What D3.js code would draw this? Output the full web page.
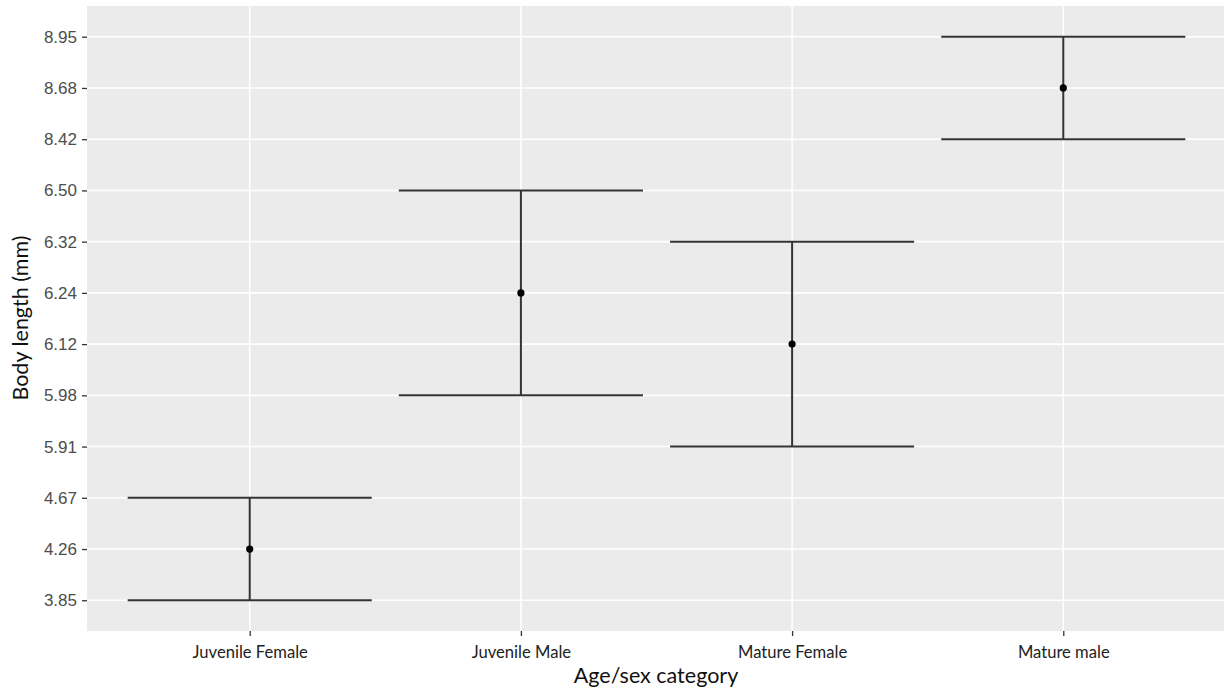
<!DOCTYPE html>
<html>
<head>
<meta charset="utf-8">
<script src="https://cdn.jsdelivr.net/npm/d3@7"></script>
<style>
  body { margin: 0; background: #fff; }
</style>
</head>
<body>
<div id="container"></div>
<script>
// categories and summary values (mean with lower / upper bound)
const categories = ["Juvenile Female", "Juvenile Male", "Mature Female", "Mature male"]
const means = ["4.26", "6.24", "6.12", "8.68"]
const lowers = ["3.85", "5.98", "5.91", "8.42"]
const uppers = ["4.67", "6.50", "6.32", "8.95"]

// y is a discrete axis, levels sorted as in the original factor
const yLevels = ["3.85", "4.26", "4.67", "5.91", "5.98", "6.12", "6.24", "6.32", "6.50", "8.42", "8.68", "8.95"]

const width = 1224
const height = 694

const panel = { left: 87, right: 1226, top: 6, bottom: 631 }

const svg = d3.select('#container')
    .append('svg').attr('width', width).attr('height', height)

const x = d3.scalePoint().domain(categories).range([panel.left, panel.right]).padding(0.6)
const y = d3.scalePoint().domain(yLevels).range([panel.bottom, panel.top]).padding(0.6)

svg.append("rect")
    .attr("x", panel.left).attr("y", panel.top)
    .attr("width", panel.right - panel.left).attr("height", panel.bottom - panel.top)
    .attr("fill", "#ebebeb")

// grid
svg.append("g").selectAll("line").data(yLevels).join("line")
    .attr("x1", panel.left).attr("x2", panel.right)
    .attr("y1", d => y(d)).attr("y2", d => y(d))
    .attr("stroke", "#fff").attr("stroke-width", 1.6)
svg.append("g").selectAll("line").data(categories).join("line")
    .attr("y1", panel.top).attr("y2", panel.bottom)
    .attr("x1", d => x(d)).attr("x2", d => x(d))
    .attr("stroke", "#fff").attr("stroke-width", 1.6)

// axes
const yAxis = d3.axisLeft(y).tickSize(5).tickPadding(5)
const gy = svg.append("g").attr("transform", `translate(${panel.left},0)`).call(yAxis)
gy.select(".domain").remove()
gy.selectAll(".tick line").attr("stroke", "#333").attr("stroke-width", 1.3)
gy.selectAll(".tick text")
    .attr("fill", "#4d4d4d")
    .style("font-family", "'Liberation Sans', Arial, sans-serif")
    .style("font-size", "17px")

const xAxis = d3.axisBottom(x).tickSize(5).tickPadding(10)
const gx = svg.append("g").attr("transform", `translate(0,${panel.bottom})`).call(xAxis)
gx.select(".domain").remove()
gx.selectAll(".tick line").attr("stroke", "#333").attr("stroke-width", 1.3)
gx.selectAll(".tick text")
    .attr("fill", "#222")
    .style("font-family", "Lato, 'Open Sans', sans-serif")
    .style("font-size", "16.6px")

// error bars
const halfW = x.step() * 0.45
const bars = svg.append("g")
categories.forEach((c, i) => {
    const cx = x(c)
    bars.append("line")
        .attr("x1", cx).attr("x2", cx)
        .attr("y1", y(uppers[i])).attr("y2", y(lowers[i]))
        .attr("stroke", "#333").attr("stroke-width", 2)
    bars.append("line")
        .attr("x1", cx - halfW).attr("x2", cx + halfW)
        .attr("y1", y(uppers[i])).attr("y2", y(uppers[i]))
        .attr("stroke", "#333").attr("stroke-width", 2)
    bars.append("line")
        .attr("x1", cx - halfW).attr("x2", cx + halfW)
        .attr("y1", y(lowers[i])).attr("y2", y(lowers[i]))
        .attr("stroke", "#333").attr("stroke-width", 2)
})

svg.append("g").selectAll("circle").data(categories).join("circle")
    .attr("cx", d => x(d))
    .attr("cy", (d, i) => y(means[i]))
    .attr("r", 3.6)
    .attr("fill", "#000")

// axis titles
svg.append("text")
    .attr("x", 656).attr("y", 683)
    .attr("text-anchor", "middle")
    .attr("fill", "#111")
    .style("font-family", "Lato, 'Open Sans', sans-serif")
    .style("font-size", "21.5px")
    .text("Age/sex category")

svg.append("text")
    .attr("transform", `translate(28,318) rotate(-90)`)
    .attr("text-anchor", "middle")
    .attr("fill", "#111")
    .style("font-family", "Lato, 'Open Sans', sans-serif")
    .style("font-size", "21.5px")
    .text("Body length (mm)")
</script>
</body>
</html>
